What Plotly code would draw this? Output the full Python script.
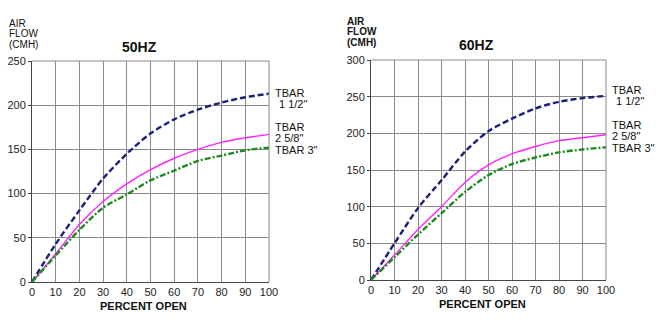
import plotly.graph_objects as go

pct = [0, 10, 20, 30, 40, 50, 60, 70, 80, 90, 100]

hz50_tbar_1_5 = [0, 43, 81, 117, 145, 168, 184, 195, 203, 209, 213]
hz50_tbar_2_58 = [0, 32, 65, 91, 111, 127, 140, 150, 158, 163, 167]
hz50_tbar_3 = [0, 30, 59, 84, 99, 115, 126, 137, 143, 149, 152]

hz60_tbar_1_5 = [0, 50, 98, 136, 175, 203, 220, 234, 243, 248, 251]
hz60_tbar_2_58 = [0, 34, 69, 100, 133, 157, 172, 182, 190, 194, 198]
hz60_tbar_3 = [0, 31, 62, 91, 120, 143, 158, 167, 174, 178, 181]

x_ticks = [0, 10, 20, 30, 40, 50, 60, 70, 80, 90, 100]
y50_ticks = [0, 50, 100, 150, 200, 250]
y60_ticks = [0, 50, 100, 150, 200, 250, 300]

series_names = ['TBAR 1 1/2"', 'TBAR 2 5/8"', 'TBAR 3"']
colors = ["#1c1f7a", "#ff22ff", "#1f8a1f"]
dashes = ["6px,3px", "solid", "6px,2px,2px,2px"]
widths = [2.4, 1.4, 2.4]

W, H = 656, 328
FONT = "Liberation Sans, Arial, sans-serif"

fig = go.Figure()

def px_dom_x(a, b):
    return [a / W, b / W]

def px_dom_y(top, bottom):
    return [1 - bottom / H, 1 - top / H]

panels = [
    dict(xa="x", ya="y", data=[hz50_tbar_1_5, hz50_tbar_2_58, hz50_tbar_3],
         xd=px_dom_x(32, 269), yd=px_dom_y(61, 282)),
    dict(xa="x2", ya="y2", data=[hz60_tbar_1_5, hz60_tbar_2_58, hz60_tbar_3],
         xd=px_dom_x(371, 606), yd=px_dom_y(60, 280)),
]

for p in panels:
    for i, ys in enumerate(p["data"]):
        fig.add_trace(go.Scatter(
            x=pct, y=ys, xaxis=p["xa"], yaxis=p["ya"], mode="lines",
            name=series_names[i], showlegend=False,
            line=dict(color=colors[i], dash=dashes[i], width=widths[i], shape="spline", smoothing=0.8),
            hoverinfo="skip"))

def axis_x(domain, anchor):
    return dict(domain=domain, anchor=anchor, range=[0, 100], tickvals=x_ticks,
                showgrid=True, gridcolor="#8a8a8a", gridwidth=1, zeroline=False,
                showline=True, linecolor="#444444", linewidth=1, mirror=False,
                ticks="", tickfont=dict(family=FONT, size=11, color="#222"),
                automargin=False, fixedrange=True)

def axis_y(domain, anchor, ymax, tv):
    return dict(domain=domain, anchor=anchor, range=[0, ymax], tickvals=tv,
                showgrid=True, gridcolor="#8a8a8a", gridwidth=1, zeroline=False,
                showline=True, linecolor="#444444", linewidth=1,
                ticks="outside", ticklen=3, tickcolor="#444444",
                tickfont=dict(family=FONT, size=11, color="#222"),
                automargin=False, fixedrange=True)

fig.update_layout(
    width=W, height=H, margin=dict(l=0, r=0, t=0, b=0),
    paper_bgcolor="white", plot_bgcolor="white",
    xaxis=axis_x(panels[0]["xd"], "y"),
    yaxis=axis_y(panels[0]["yd"], "x", 250, y50_ticks),
    xaxis2=axis_x(panels[1]["xd"], "y2"),
    yaxis2=axis_y(panels[1]["yd"], "x2", 300, y60_ticks),
)

# top and right border lines (gray) for each panel
for xa, ya in [("x", "y"), ("x2", "y2")]:
    fig.add_shape(type="line", xref=xa + " domain", yref=ya + " domain",
                  x0=1, x1=1, y0=0, y1=1, line=dict(color="#8a8a8a", width=1))
    fig.add_shape(type="line", xref=xa + " domain", yref=ya + " domain",
                  x0=0, x1=1, y0=1, y1=1, line=dict(color="#8a8a8a", width=1))

def ann(text, x, y, size=11, bold=False, xanchor="left", align="left"):
    if bold:
        text = "<b>" + text + "</b>"
    fig.add_annotation(text=text, x=x / W, y=1 - y / H, xref="paper", yref="paper",
                       xanchor=xanchor, yanchor="middle", showarrow=False, align=align,
                       borderpad=0,
                       font=dict(family=FONT, size=size, color="#111"))

# Left panel texts
ann("AIR", 8, 23.5, size=10)
ann("FLOW", 8, 34, size=10)
ann("(CMH)", 8, 44.5, size=10)
ann("50HZ", 139, 47, size=14, bold=True, xanchor="center")
ann("PERCENT OPEN", 143, 306, size=11, bold=True, xanchor="center")
ann("TBAR", 274, 93, size=11)
ann("1 1/2\"", 278, 104, size=11)
ann("TBAR", 274, 127, size=11)
ann("2 5/8\"", 274, 138, size=11)
ann("TBAR 3\"", 274, 149.5, size=11)

# Right panel texts
ann("AIR", 346, 21.5, size=10, bold=True)
ann("FLOW", 346, 32, size=10, bold=True)
ann("(CMH)", 346, 42.5, size=10, bold=True)
ann("60HZ", 476, 45, size=14, bold=True, xanchor="center")
ann("PERCENT OPEN", 482, 304, size=11, bold=True, xanchor="center")
ann("TBAR", 611, 90, size=11)
ann("1 1/2\"", 615, 101, size=11)
ann("TBAR", 611, 125, size=11)
ann("2 5/8\"", 611, 136, size=11)
ann("TBAR 3\"", 611, 147.5, size=11)

fig.write_html("out.html", config={"displayModeBar": False})
